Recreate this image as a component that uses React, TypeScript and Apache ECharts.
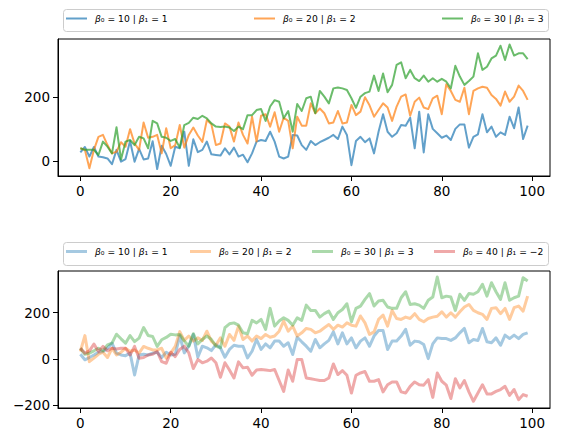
import React, { useEffect, useRef } from 'react';
import * as echarts from 'echarts';

// ---------- data ----------
const topLabels = ['β₀ = 10 | β₁ = 1', 'β₀ = 20 | β₁ = 2', 'β₀ = 30 | β₁ = 3'];
const botLabels = ['β₀ = 10 | β₁ = 1', 'β₀ = 20 | β₁ = 2', 'β₀ = 30 | β₁ = 3', 'β₀ = 40 | β₁ = −2'];
const xTicks = [0, 20, 40, 60, 80, 100];
const topYTicks = [0, 200];
const botYTicks = [-200, 0, 200];

const topBlue = [
  27, 44, 14, 44, 14, 12, 8, -10, 35, -2,
  6, 63, -2, 38, 5, 8, 62, -25, 48, 22,
  -15, 45, 40, 92, -15, 68, 28, 35, 61, 21,
  19, 17, 40, 21, 42, 14, 20, -4, 24, 61,
  66, 63, 92, 61, 14, 8, 14, 82, 80, 50,
  35, 63, 50, 59, 66, 73, 82, 69, 108, 82,
  -13, 63, 76, 59, 71, 24, 92, 147, 92, 76,
  87, 113, 111, 136, 40, 155, 27, 147, 101, 87,
  73, 80, 66, 101, 115, 115, 42, 76, 84, 147,
  90, 108, 76, 90, 82, 139, 103, 168, 69, 111,
];
const topOrange = [
  40, 35, -23, 35, 76, 82, 50, 24, 29, 59,
  45, 100, 55, 35, 121, 73, 76, 82, 24, 103,
  40, 50, 113, 42, 82, 105, 80, 60, 129, 115,
  50, 55, 118, 108, 61, 121, 82, 55, 139, 61,
  142, 147, 108, 153, 92, 136, 126, 40, 139, 111,
  111, 181, 150, 165, 150, 118, 121, 157, 118, 121,
  176, 144, 155, 200, 175, 139, 160, 181, 168, 126,
  171, 202, 209, 142, 186, 199, 168, 163, 197, 205,
  147, 241, 220, 192, 186, 230, 147, 220, 228, 233,
  230, 207, 195, 174, 218, 186, 202, 237, 220, 192,
];
const topGreen = [
  40, 35, 35, 35, 19, 61, 45, 24, 106, 5,
  61, 66, 50, 76, 71, 40, 126, 118, 76, 73,
  63, 69, 42, 113, 120, 136, 132, 142, 134, 118,
  108, 107, 108, 105, 94, 108, 100, 144, 144, 160,
  163, 126, 171, 191, 186, 134, 157, 92, 179, 157,
  197, 202, 150, 220, 202, 181, 228, 231, 228, 223,
  197, 167, 202, 213, 218, 268, 220, 275, 216, 239,
  302, 310, 260, 286, 260, 251, 268, 249, 260, 249,
  258, 249, 228, 299, 265, 239, 251, 265, 338, 286,
  296, 322, 331, 362, 317, 366, 331, 338, 338, 320,
];

const botBlue = [
  20, -4, 6, 17, 29, 32, 46, 68, 25, 17,
  14, 25, -70, 17, 20, 17, 25, 29, 6, 29,
  17, 20, 100, 26, 55, 106, 7, 55, 48, 36,
  62, 48, 7, 41, 59, 55, 55, 4, 33, 84,
  41, 65, 48, 77, 77, 55, 70, 19, 94, 74,
  55, 33, 84, 48, 65, 80, 117, 65, 113, 65,
  91, 48, 77, 91, 55, 99, 123, 123, 41, 77,
  77, 99, 128, 59, 77, 74, 62, 1, 65, 91,
  88, 88, 80, 91, 113, 132, 70, 84, 80, 132,
  74, 70, 91, 59, 103, 88, 103, 88, 106, 113,
];
const botOrange = [
  32, 101, -12, 3, 20, 29, 6, 46, 17, 29,
  46, 32, 39, 25, 54, 46, 39, 39, 46, 3,
  25, 54, 118, 80, 99, 77, 91, 80, 120, 77,
  59, 91, 55, 106, 80, 142, 84, 99, 77, 99,
  88, 106, 94, 99, 120, 164, 120, 142, 99, 113,
  132, 128, 113, 120, 135, 149, 128, 146, 138, 156,
  146, 142, 186, 156, 106, 117, 171, 190, 142, 210,
  175, 171, 181, 175, 196, 171, 161, 175, 181, 185,
  204, 181, 200, 181, 204, 225, 236, 210, 200, 193,
  171, 219, 222, 196, 219, 171, 222, 229, 207, 272,
];
const botGreen = [
  46, 20, 25, 35, 46, 35, 61, 68, 107, 87,
  68, 101, 75, 90, 136, 101, 97, 54, 83, 93,
  107, 104, 106, 77, 55, 109, 65, 84, 99, 84,
  55, 48, 135, 152, 156, 146, 113, 109, 167, 156,
  171, 128, 219, 142, 164, 178, 167, 146, 178, 167,
  233, 210, 210, 181, 196, 207, 171, 200, 214, 239,
  161, 219, 229, 258, 283, 229, 251, 254, 225, 219,
  219, 265, 291, 236, 239, 233, 219, 254, 268, 355,
  265, 272, 268, 210, 280, 254, 283, 280, 291, 323,
  272, 330, 291, 258, 330, 254, 265, 272, 352, 338,
];
const botRed = [
  46, 25, 35, 64, 32, 54, 35, 46, 43, 46,
  46, 17, 54, 3, 6, 17, 20, 32, -12, -19,
  29, 10, 41, 55, 26, -42, -3, -17, -10, 4,
  -17, -80, -17, -48, -83, -13, -39, -36, -71, -48,
  -46, -48, -51, -46, -94, -141, -48, -97, -3, -3,
  -83, -86, -90, -94, -94, -83, -22, -68, -51, -71,
  -148, -71, -61, -55, -97, -97, -90, -143, -112, -100,
  -100, -143, -148, -119, -100, -112, -114, -90, -167, -61,
  -97, -114, -172, -86, -126, -94, -143, -184, -148, -112,
  -152, -152, -141, -133, -119, -158, -133, -177, -155, -162,
];

const colors = ['#1f77b4', '#ff7f0e', '#2ca02c', '#d62728'];
const FONT = 'DejaVu Sans';

function rgba(hex: string, a: number) {
  const r = parseInt(hex.slice(1, 3), 16);
  const g = parseInt(hex.slice(3, 5), 16);
  const b = parseInt(hex.slice(5, 7), 16);
  return `rgba(${r},${g},${b},${a})`;
}

const minusFmt = (v: number) => String(v).replace('-', '−');

function xAxisFor(gridIndex: number) {
  return {
    type: 'value',
    gridIndex,
    min: -4.95,
    max: 103.95,
    axisLine: { show: true, onZero: false, lineStyle: { color: '#000', width: 1 } },
    axisTick: { show: true, length: 5, lineStyle: { color: '#000', width: 1 }, customValues: xTicks },
    axisLabel: { customValues: xTicks, color: '#000', fontSize: 13.5, fontFamily: FONT, margin: 8, formatter: minusFmt },
    splitLine: { show: false },
  };
}

function yAxisFor(gridIndex: number, min: number, max: number, ticks: number[]) {
  return {
    type: 'value',
    gridIndex,
    min,
    max,
    axisLine: { show: true, onZero: false, lineStyle: { color: '#000', width: 1 } },
    axisTick: { show: true, length: 5, lineStyle: { color: '#000', width: 1 }, customValues: ticks },
    axisLabel: { customValues: ticks, color: '#000', fontSize: 13.5, fontFamily: FONT, margin: 8, formatter: minusFmt },
    splitLine: { show: false },
  };
}

function lineSeries(name: string, values: number[], k: number, gi: number, width: number, opacity: number) {
  return {
    type: 'line',
    name,
    xAxisIndex: gi,
    yAxisIndex: gi,
    data: values.map((v, i) => [i, v]),
    symbol: 'none',
    showSymbol: false,
    silent: true,
    lineStyle: { color: colors[k], width, opacity, join: 'round' },
    itemStyle: { color: colors[k] },
  };
}

function legendFor(name: string, k: number, left: number, top: number, h: number, alpha: number) {
  return {
    left,
    top,
    padding: 0,
    itemGap: 0,
    itemWidth: 21,
    itemHeight: h,
    icon: 'rect',
    selectedMode: false,
    data: [{ name, icon: 'rect', itemStyle: { color: rgba(colors[k], alpha), borderWidth: 0 } }],
    formatter: (n: string) => n.replace(/β/g, '{i|β}'),
    textStyle: {
      fontFamily: FONT,
      fontSize: 9.2,
      color: '#000',
      padding: [0, 0, 0, 3],
      rich: { i: { fontStyle: 'italic', fontFamily: FONT, fontSize: 9.2, color: '#000' } },
    },
  };
}

export default function App() {
  const ref = useRef<HTMLDivElement>(null);
  useEffect(() => {
    if (!ref.current) return;
    const chart = echarts.init(ref.current, null, { renderer: 'svg' });
    const topLeft = [66, 254, 442];
    const botLeft = [66, 190, 312, 434];
    const option: any = {
      animation: false,
      backgroundColor: '#fff',
      textStyle: { fontFamily: FONT },
      grid: [
        { left: 58, top: 39, width: 492, height: 137, show: true, borderColor: '#000', borderWidth: 1 },
        { left: 58, top: 271, width: 492, height: 137, show: true, borderColor: '#000', borderWidth: 1 },
      ],
      xAxis: [xAxisFor(0), xAxisFor(1)],
      yAxis: [yAxisFor(0, -47, 383, topYTicks), yAxisFor(1, -213, 381, botYTicks)],
      legend: [
        ...topLabels.map((n, k) => legendFor(n, k, topLeft[k], 14, 2, 0.7)),
        ...botLabels.map((n, k) => legendFor(n, k, botLeft[k], 247, 3, 0.4)),
      ],
      graphic: [
        { type: 'rect', z: 0, shape: { x: 63.5, y: 9.5, width: 485, height: 22, r: 3 }, style: { fill: 'rgba(255,255,255,0.8)', stroke: '#cccccc', lineWidth: 1 } },
        { type: 'rect', z: 0, shape: { x: 63.5, y: 242.5, width: 485, height: 23, r: 3 }, style: { fill: 'rgba(255,255,255,0.8)', stroke: '#cccccc', lineWidth: 1 } },
      ],
      series: [
        lineSeries(topLabels[0], topBlue, 0, 0, 2, 0.7),
        lineSeries(topLabels[1], topOrange, 1, 0, 2, 0.7),
        lineSeries(topLabels[2], topGreen, 2, 0, 2, 0.7),
        lineSeries(botLabels[0], botBlue, 0, 1, 3, 0.4),
        lineSeries(botLabels[1], botOrange, 1, 1, 3, 0.4),
        lineSeries(botLabels[2], botGreen, 2, 1, 3, 0.4),
        lineSeries(botLabels[3], botRed, 3, 1, 3, 0.4),
      ],
    };
    chart.setOption(option);
    return () => chart.dispose();
  }, []);
  return (
    <div
      ref={ref}
      style={{ position: 'fixed', left: 0, top: 0, width: 563, height: 442, background: '#fff' }}
    />
  );
}
